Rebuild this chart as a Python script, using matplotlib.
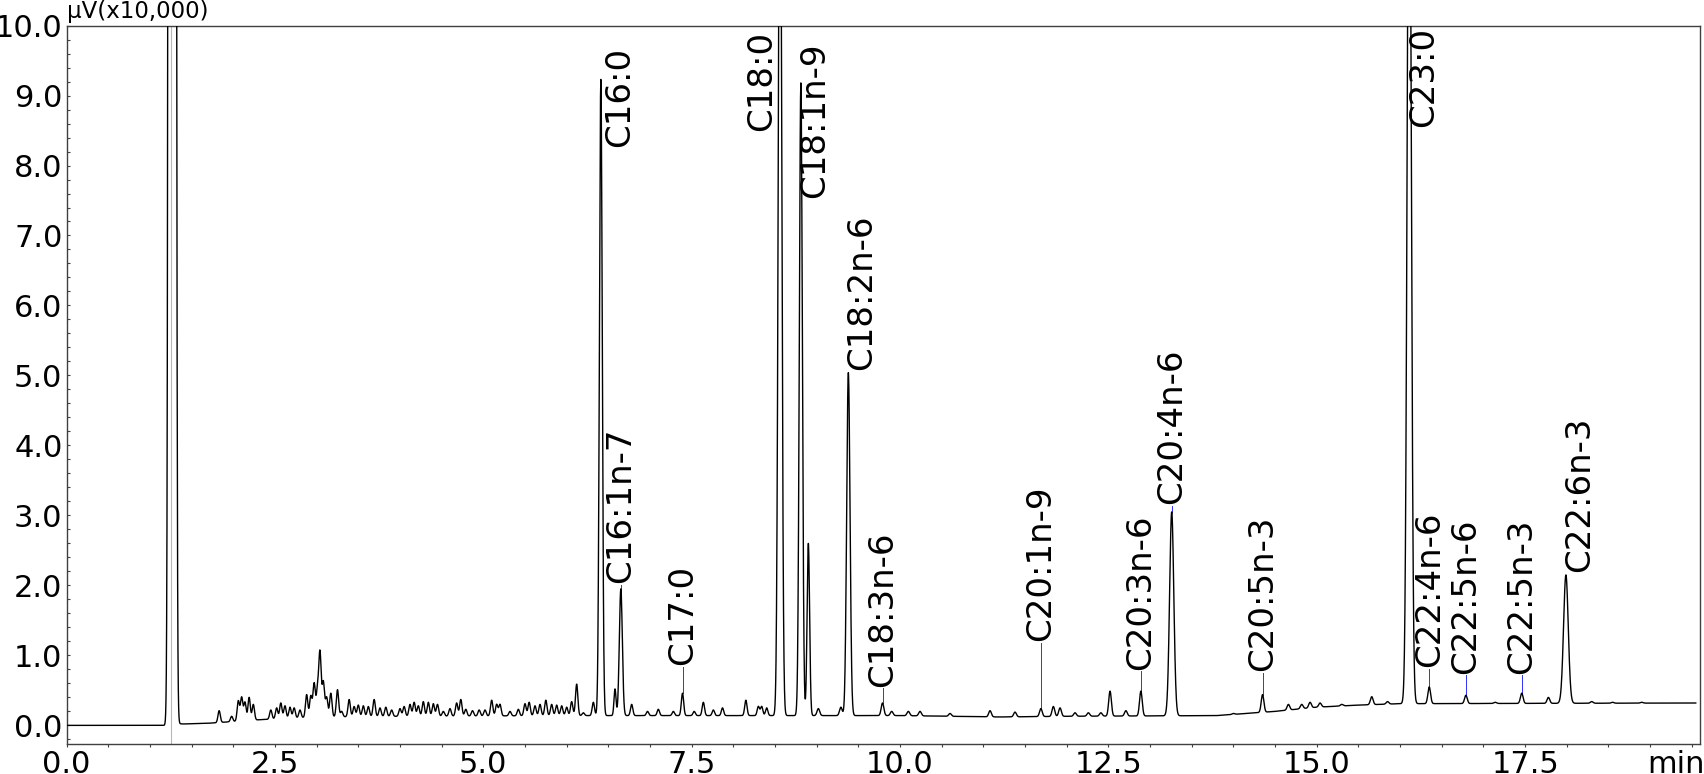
import matplotlib
matplotlib.use('Agg')
import matplotlib.pyplot as plt
import numpy as np
from matplotlib.ticker import MultipleLocator, FormatStrFormatter

# baseline drift (time in min, signal in uV x10,000)
base_t = [0.0, 1.18, 1.22, 1.4, 1.7, 2.3, 3.0, 4.0, 6.0, 10.0, 11.2, 12.0, 13.8, 14.5, 15.0, 15.5, 16.0, 19.6]
base_y = [0.0, 0.0, 0.03, 0.02, 0.03, 0.08, 0.12, 0.13, 0.14, 0.14, 0.12, 0.13, 0.14, 0.20, 0.26, 0.29, 0.31, 0.32]

# large peaks: retention time, apex value, width (sigma)
major_t = [1.267, 6.41, 6.58, 6.65, 8.56, 8.81, 8.90, 9.38, 13.26, 16.11, 17.99]
major_top = [400.0, 9.23, 0.52, 1.95, 14.0, 9.18, 2.60, 5.04, 3.05, 14.0, 2.15]
major_w = [0.02, 0.017, 0.012, 0.018, 0.02, 0.018, 0.015, 0.02, 0.025, 0.024, 0.028]

# small peaks / noise: retention time, apex value
small_t = [1.83, 1.98, 2.06, 2.10, 2.14, 2.19, 2.24, 2.45, 2.52, 2.57, 2.62, 2.68, 2.73, 2.80,
           2.88, 2.93, 2.97, 3.01, 3.04, 3.08, 3.12, 3.17, 3.25, 3.30, 3.39, 3.45, 3.50, 3.56,
           3.62, 3.69, 3.76, 3.83, 3.90, 4.00, 4.05, 4.12, 4.17, 4.22, 4.28, 4.34, 4.40, 4.45,
           4.52, 4.60, 4.68, 4.73, 4.79, 4.87, 4.95, 5.02, 5.10, 5.16, 5.20, 5.32, 5.42, 5.50,
           5.55, 5.62, 5.68, 5.75, 5.82, 5.88, 5.94, 6.00, 6.06, 6.12, 6.20, 6.32,
           6.78, 6.97, 7.10, 7.28, 7.39, 7.53, 7.64, 7.76, 7.87, 8.15, 8.30, 8.34, 8.40,
           9.02, 9.29, 9.79, 9.90, 10.10, 10.24, 10.60, 11.08, 11.38, 11.69, 11.84, 11.92,
           12.10, 12.26, 12.41, 12.52, 12.71, 12.89, 14.00, 14.35, 14.66, 14.82, 14.92, 15.04,
           15.30, 15.66, 15.85, 16.35, 16.79, 17.14, 17.46, 17.78, 18.30, 18.55, 18.90]
small_top = [0.21, 0.13, 0.35, 0.40, 0.33, 0.40, 0.30, 0.22, 0.25, 0.32, 0.28, 0.26, 0.25, 0.22,
             0.44, 0.42, 0.60, 0.50, 1.03, 0.62, 0.40, 0.46, 0.51, 0.20, 0.37, 0.27, 0.29, 0.28,
             0.27, 0.37, 0.25, 0.26, 0.22, 0.24, 0.27, 0.30, 0.33, 0.28, 0.34, 0.33, 0.31, 0.30,
             0.20, 0.24, 0.32, 0.37, 0.23, 0.21, 0.22, 0.22, 0.36, 0.30, 0.30, 0.20, 0.23, 0.31,
             0.33, 0.28, 0.30, 0.36, 0.30, 0.29, 0.28, 0.26, 0.34, 0.59, 0.18, 0.33,
             0.30, 0.20, 0.23, 0.20, 0.46, 0.20, 0.33, 0.22, 0.25, 0.36, 0.27, 0.27, 0.25,
             0.24, 0.26, 0.32, 0.20, 0.20, 0.20, 0.17, 0.21, 0.19, 0.24, 0.27, 0.25,
             0.18, 0.18, 0.18, 0.49, 0.21, 0.49, 0.17, 0.44, 0.30, 0.30, 0.33, 0.32,
             0.30, 0.41, 0.34, 0.55, 0.43, 0.33, 0.46, 0.40, 0.34, 0.33, 0.33]

# peak labels
label_names = ['C16:0', 'C16:1n-7', 'C17:0', 'C18:0', 'C18:1n-9', 'C18:2n-6', 'C18:3n-6',
               'C20:1n-9', 'C20:3n-6', 'C20:4n-6', 'C20:5n-3', 'C23:0', 'C22:4n-6',
               'C22:5n-6', 'C22:5n-3', 'C22:6n-3']
label_t = [6.41, 6.65, 7.39, 8.56, 8.81, 9.38, 9.79, 11.69, 12.89, 13.26, 14.35, 16.11,
           16.35, 16.79, 17.46, 17.99]
label_peak = [9.23, 1.95, 0.46, 14.0, 9.18, 5.04, 0.32, 0.24, 0.49, 3.05, 0.44, 14.0,
              0.55, 0.43, 0.46, 2.15]
label_y = [8.27, 2.03, 0.86, 8.50, 7.54, 5.08, 0.55, 1.20, 0.79, 3.16, 0.77, 8.55,
           0.83, 0.74, 0.74, 2.19]
label_dx = [0.23, 0, 0, -0.22, 0.17, 0.16, 0, 0, 0, 0, 0, 0.17, 0, 0, 0, 0.17]


# build the trace from the peak table
t = np.arange(0, 19.55, 0.002)
y = np.interp(t, base_t, base_y)
for pt, top, w in zip(major_t, major_top, major_w):
    h = top - np.interp(pt, base_t, base_y)
    y = y + h * np.exp(-(t - pt) ** 2 / (2 * w ** 2))
for pt, top in zip(small_t, small_top):
    h = top - np.interp(pt, base_t, base_y)
    w = 0.014 if pt < 9 else 0.016
    y = y + h * np.exp(-(t - pt) ** 2 / (2 * w ** 2))

plt.rcParams['font.family'] = 'DejaVu Sans'
fig = plt.figure(figsize=(17.04, 7.74), dpi=100)
ax = fig.add_axes([0.0391, 0.0384, 0.9586, 0.9286])

ax.axvline(1.248, color='#b8b8b8', lw=0.8, zorder=1)
ax.plot(t, y, color='black', lw=1.0, zorder=3)

for name, pt, pk, ly, dx in zip(label_names, label_t, label_peak, label_y, label_dx):
    if dx == 0 and ly - pk > 0.05:
        ax.plot([pt, pt], [pk, ly - 0.02], color='#3030ff', lw=0.7, zorder=2)
    ax.text(pt + dx, ly, name, rotation=90, ha='center', va='bottom', fontsize=24.5)

ax.set_xlim(0, 19.6)
ax.set_ylim(-0.27, 10.0)
ax.xaxis.set_major_locator(MultipleLocator(2.5))
ax.xaxis.set_minor_locator(MultipleLocator(0.5))
ax.yaxis.set_major_locator(MultipleLocator(1.0))
ax.yaxis.set_minor_locator(MultipleLocator(0.2))
ax.xaxis.set_major_formatter(FormatStrFormatter('%.1f'))
ax.yaxis.set_major_formatter(FormatStrFormatter('%.1f'))
ax.tick_params(axis='x', which='both', direction='out', length=2.5, width=0.8,
               labelsize=22, pad=1.5, color='#404040')
ax.tick_params(axis='y', which='both', direction='in', length=2, width=0.8,
               labelsize=22, pad=3, color='#404040')
for s in ax.spines.values():
    s.set_color('#404040')
    s.set_linewidth(1.0)

ax.text(0.0, 1.003, 'μV(x10,000)', transform=ax.transAxes, ha='left', va='bottom', fontsize=16.5)
ax.annotate('min', xy=(19.31, 0), xycoords=('data', 'axes fraction'), xytext=(0, -21),
            textcoords='offset points', ha='center', va='baseline', fontsize=22)

fig.savefig('out.png', dpi=100)
